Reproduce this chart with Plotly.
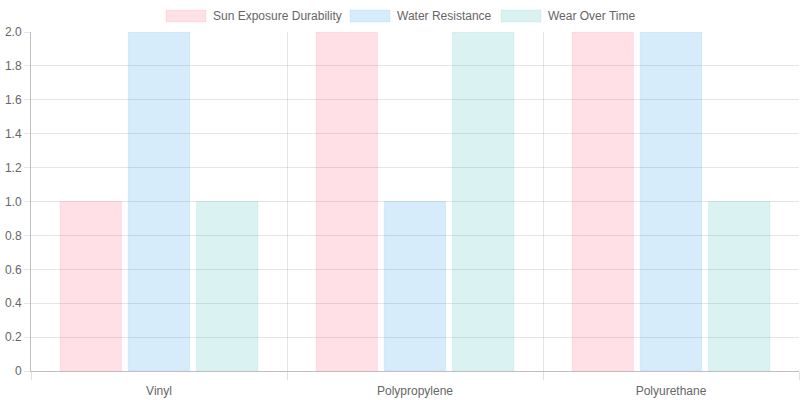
import plotly.graph_objects as go

categories = ["Vinyl", "Polypropylene", "Polyurethane"]
series_names = ["Sun Exposure Durability", "Water Resistance", "Wear Over Time"]
sun_values = [1, 2, 2]
water_values = [2, 1, 2]
wear_values = [1, 2, 1]
y_tick_vals = [0, 0.2, 0.4, 0.6, 0.8, 1.0, 1.2, 1.4, 1.6, 1.8, 2.0]
y_tick_text = ["0", "0.2", "0.4", "0.6", "0.8", "1.0", "1.2", "1.4", "1.6", "1.8", "2.0"]

fills = ["rgba(255,99,132,0.2)", "rgba(54,162,235,0.2)", "rgba(75,192,192,0.2)"]
borders = ["rgba(255,99,132,0.12)", "rgba(54,162,235,0.12)", "rgba(75,192,192,0.12)"]

xpos = list(range(len(categories)))
fig = go.Figure()
for name, vals, fc, bc in zip(series_names, [sun_values, water_values, wear_values], fills, borders):
    fig.add_trace(go.Bar(x=xpos, y=vals, name=name, marker=dict(color=fc, line=dict(color=bc, width=1)),
                         showlegend=False))

FONT = "Liberation Sans, Arial, Helvetica, sans-serif"
fig.update_layout(
    width=800, height=400,
    margin=dict(l=31, r=1, t=32, b=29),
    paper_bgcolor="white", plot_bgcolor="white",
    barmode="group", bargap=0.2, bargroupgap=0.1,
    font=dict(family=FONT, size=12, color="#666"),
    showlegend=False,
)
fig.update_xaxes(
    range=[-0.5, len(categories) - 0.5],
    tickvals=xpos, ticktext=categories, ticks="", showgrid=False,
    showline=True, linecolor="rgba(0,0,0,0.25)", linewidth=1,
    zeroline=False, ticklabelstandoff=9,
    minor=dict(tickvals=[i - 0.5 for i in range(len(categories) + 1)], ticks="outside", ticklen=8,
               tickcolor="rgba(0,0,0,0.12)", showgrid=True, gridcolor="rgba(0,0,0,0.1)", gridwidth=1),
    tickfont=dict(size=12, color="#666"),
)
fig.update_yaxes(
    range=[0, 2], tickvals=y_tick_vals, ticktext=y_tick_text,
    ticks="outside", ticklen=6, tickcolor="rgba(0,0,0,0.1)",
    showgrid=True, gridcolor="rgba(0,0,0,0.1)", gridwidth=1,
    showline=True, linecolor="rgba(0,0,0,0.25)", linewidth=1,
    zeroline=False,
    tickfont=dict(size=12, color="#666"),
)

# Custom legend (Chart.js style)
legend_box_x = [166, 350, 501]
for name, fc, bc, bx in zip(series_names, fills, borders, legend_box_x):
    fig.add_shape(type="rect", xref="paper", yref="paper",
                  x0=(bx - 31) / 768, x1=(bx + 40 - 31) / 768,
                  y0=(371 - 22) / 339, y1=(371 - 10) / 339,
                  fillcolor=fc, line=dict(color=bc, width=1))
    fig.add_annotation(text=name, xref="paper", yref="paper",
                       x=(bx + 45 - 31) / 768, y=(371 - 16) / 339,
                       xanchor="left", yanchor="middle", showarrow=False,
                       font=dict(size=12, color="#666", family=FONT))

fig.write_html("out.html")
